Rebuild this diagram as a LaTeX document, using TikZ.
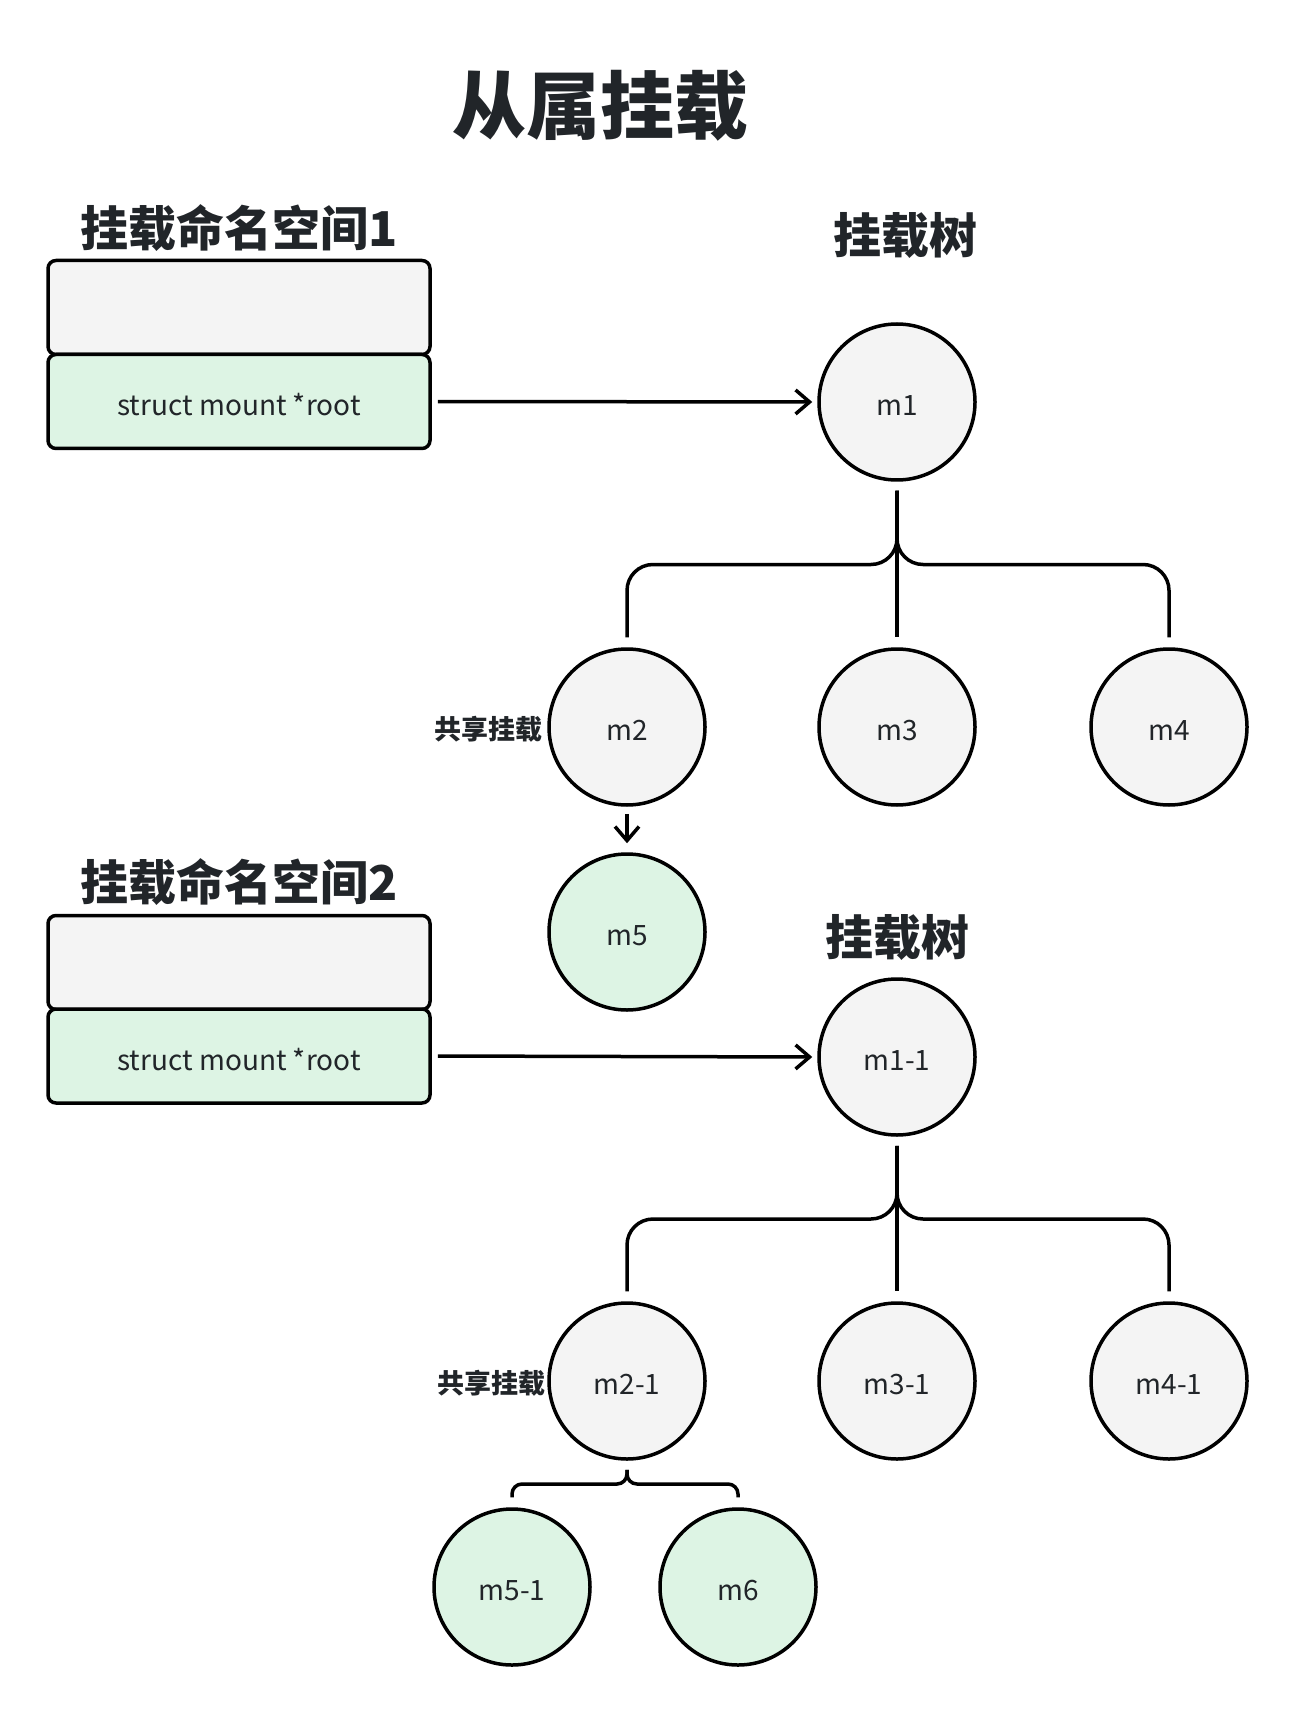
\documentclass[tikz,border=0pt]{standalone}
\usepackage{fontspec}
\setmainfont{Noto Sans CJK SC}
\usetikzlibrary{arrows.meta,calc}
\definecolor{ink}{HTML}{212529}
\definecolor{greyfill}{HTML}{F4F4F4}
\definecolor{greenfill}{HTML}{DDF4E4}
\begin{document}
\begin{tikzpicture}[x=0.5pt,y=-0.5pt,
  titletext/.style={font=\fontsize{37}{40}\selectfont\bfseries,text=ink,inner sep=0pt},
  heading/.style={font=\fontsize{24}{26}\selectfont\bfseries,text=ink,inner sep=0pt},
  tag/.style={font=\fontsize{13.5}{15}\selectfont\bfseries,text=ink,inner sep=0pt},
  label/.style={font=\fontsize{14}{16}\selectfont,text=ink,inner sep=0pt},
  mnode/.style={circle,draw=black,line width=1.75pt,minimum size=78pt,inner sep=0pt},
  field/.style={rectangle,draw=black,line width=1.75pt,rounded corners=4pt,
    minimum width=191pt,minimum height=47pt,inner sep=0pt},
  plainnode/.style={fill=greyfill},
  newnode/.style={fill=greenfill},
  link/.style={draw=black,line width=1.75pt,
    -{Straight Barb[length=7pt,width=12pt,line width=1.75pt]},
    shorten <=3pt,shorten >=2.5pt},
  branch/.style={draw=black,line width=1.75pt,rounded corners=13pt,
    shorten <=4.5pt,shorten >=5pt},
  twig/.style={draw=black,line width=1.75pt,rounded corners=5pt,
    shorten <=4.5pt,shorten >=5pt},
]
\useasboundingbox (0,0) rectangle (1298,1716);

% title
\node[titletext] (title) at (600,106) {从属挂载};

% ---- namespace 1 ----
\node[heading] (ns1) at (239,228) {挂载命名空间1};
\node[field,plainnode] (ns1top) at (239,307.5) {};
\node[field,newnode] (ns1root) at (239,401.5) {};
\node[label] (ns1txt) at ([yshift=-1.75pt]ns1root.center) {struct mount *root};

\node[heading] (tree1) at (905,236) {挂载树};
\node[mnode,plainnode] (m1) at (897,402) {};
\node[mnode,plainnode] (m2) at (627,727) {};
\node[mnode,plainnode] (m3) at (897,727) {};
\node[mnode,plainnode] (m4) at (1169,727) {};
\node[mnode,newnode] (m5) at (627,932) {};
\node[tag,anchor=east] (share1) at (543,729) {共享挂载};

% circle labels, set a little below the centre
\foreach \n/\t in {m1/m1,m2/m2,m3/m3,m4/m4,m5/m5}
  \node[label] (\n-txt) at ([yshift=-1.6pt]\n.center) {\t};

\draw[link] (ns1root.east) -- (m1.west);
\coordinate (j1) at ($(m1.south)!0.5!(m3.north)$);
\draw[branch] (m1.south) -- (j1) -| (m2.north);
\draw[branch] (m1.south) -- (j1) -| (m4.north);
\draw[branch] (m1.south) -- (m3.north);
\draw[link,shorten <=3.5pt,shorten >=4.5pt] (m2.south) -- (m5.north);

% ---- namespace 2 ----
\node[heading] (ns2) at (239,882) {挂载命名空间2};
\node[field,plainnode] (ns2top) at (239,962.5) {};
\node[field,newnode] (ns2root) at (239,1056) {};
\node[label] (ns2txt) at ([yshift=-1.75pt]ns2root.center) {struct mount *root};

\node[heading] (tree2) at (897,937) {挂载树};
\node[mnode,plainnode] (m11) at (897,1057) {};
\node[mnode,plainnode] (m21) at (627,1381) {};
\node[mnode,plainnode] (m31) at (897,1381) {};
\node[mnode,plainnode] (m41) at (1169,1381) {};
\node[mnode,newnode] (m51) at (512,1587) {};
\node[mnode,newnode] (m6) at (738,1587) {};
\node[tag,anchor=east] (share2) at (546,1383) {共享挂载};

\foreach \n/\t in {m11/m1-1,m21/m2-1,m31/m3-1,m41/m4-1,m51/m5-1,m6/m6}
  \node[label] (\n-txt) at ([yshift=-1.6pt]\n.center) {\t};

\draw[link] (ns2root.east) -- (m11.west);
\coordinate (j2) at ($(m11.south)!0.5!(m31.north)$);
\draw[branch] (m11.south) -- (j2) -| (m21.north);
\draw[branch] (m11.south) -- (j2) -| (m41.north);
\draw[branch] (m11.south) -- (m31.north);

\coordinate (j3) at ($(m21.south)!0.5!(m51.north)$);
\draw[twig] (m21.south) -- (m21.south |- j3) -| (m51.north);
\draw[twig] (m21.south) -- (m21.south |- j3) -| (m6.north);
\end{tikzpicture}
\end{document}
